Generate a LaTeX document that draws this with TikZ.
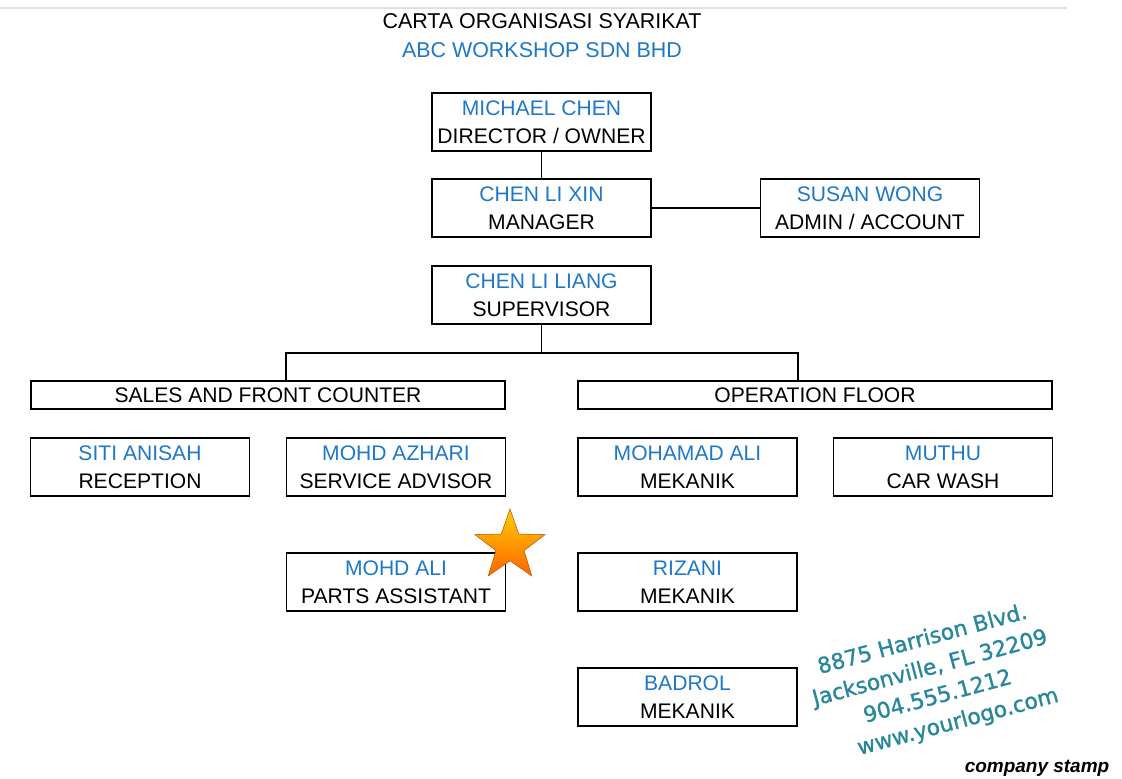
\documentclass[tikz,border=0pt]{standalone}
\usepackage{fontspec}
\setmainfont{Liberation Sans}
\newfontfamily\stampfont[FakeBold=1.2]{DejaVu Sans}
\usepackage{xcolor}
\usetikzlibrary{shapes.geometric}

\definecolor{nameblue}{RGB}{30,120,200}
\definecolor{stampteal}{RGB}{40,135,155}
\newcommand{\cstrut}{\rule[-2pt]{0pt}{12.5pt}}
\newcommand{\staff}[2]{{\color{nameblue}\cstrut#1}\\\cstrut#2}

\begin{document}
\begin{tikzpicture}[x=0.02cm,y=-0.02cm,
		post/.style={draw,line width=1.1pt,minimum width=4.38cm,minimum height=1.16cm,inner sep=0pt,align=center,font=\fontsize{12}{16}\selectfont},
		dept/.style={draw,line width=1.1pt,minimum width=9.48cm,minimum height=0.56cm,inner sep=0pt,font=\fontsize{12}{16}\selectfont},
		link/.style={line width=1.1pt}]
				\useasboundingbox (0,0) rectangle (1122,778);
				\draw[gray!25,line width=1pt] (0,8) -- (1067,8);

				\node[font=\fontsize{12.2}{14}\selectfont] (title) at (542,21) {CARTA ORGANISASI SYARIKAT};
				\node[font=\fontsize{12.2}{14}\selectfont,text=nameblue] (company) at (542,50) {ABC WORKSHOP SDN BHD};

				\node[post] (michael) at (541.5,122) {\staff{MICHAEL CHEN}{DIRECTOR / OWNER}};
				\node[post] (lixin) at (541.5,208) {\staff{CHEN LI XIN}{MANAGER}};
				\node[post] (susan) at (870,208) {\staff{SUSAN WONG}{ADMIN / ACCOUNT}};
				\node[post] (liliang) at (541.5,295) {\staff{CHEN LI LIANG}{SUPERVISOR}};

				\node[dept] (sales) at (268,395) {\cstrut SALES AND FRONT COUNTER};
				\node[dept] (ops) at (815,395) {\cstrut OPERATION FLOOR};

				\node[post] (siti) at (140,467) {\staff{SITI ANISAH}{RECEPTION}};
				\node[post] (azhari) at (396,467) {\staff{MOHD AZHARI}{SERVICE ADVISOR}};
				\node[post] (mali) at (687.5,467) {\staff{MOHAMAD ALI}{MEKANIK}};
				\node[post] (muthu) at (943,467) {\staff{MUTHU}{CAR WASH}};

				\node[post] (mohdali) at (396,582) {\staff{MOHD ALI}{PARTS ASSISTANT}};
				\node[post] (rizani) at (687.5,582) {\staff{RIZANI}{MEKANIK}};
				\node[post] (badrol) at (687.5,697) {\staff{BADROL}{MEKANIK}};

				\draw[link] (michael.south) -- (lixin.north);
				\draw[link] (lixin.east) -- (susan.west);
				\draw[link] (liliang.south) -- ++(0,28) coordinate (split);
				\draw[link] (azhari.west |- sales.north) |- (split) -| (mali.east |- ops.north);

				\node[star,star points=5,star point ratio=2.5,minimum size=1.48cm,inner sep=0pt,
					draw=orange!70!black,line width=0.3pt,top color=orange!40!yellow,bottom color=orange!80!red] (badge) at (510,546) {};

				\node[rotate=15,align=center,text=stampteal,font=\stampfont\fontsize{12.4}{16.8}\selectfont] (stamp) at (934,683)
					{8875 Harrison Blvd.\\Jacksonville, FL 32209\\904.555.1212\\\hspace*{1.2em}www.yourlogo.com};
				\node[font=\bfseries\itshape\fontsize{10.8}{12}\selectfont] (stamplabel) at (1037,768) {company stamp};
		\end{tikzpicture}
\end{document}
